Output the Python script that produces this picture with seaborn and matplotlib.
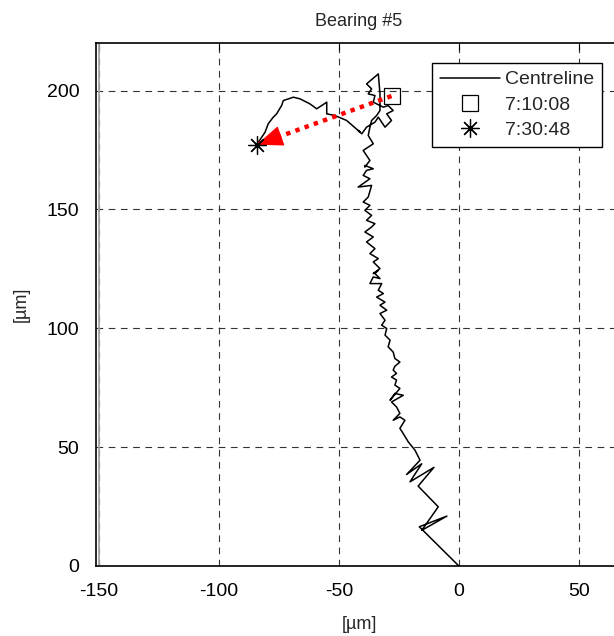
import numpy as np
import pandas as pd
import matplotlib
matplotlib.use("Agg")
import matplotlib.pyplot as plt
import seaborn as sns

track_x = [0.0, -16.5, -5.0, -15.5, -8.6, -17.0, -10.4, -20.4, -15.5, -21.8, -16.2,
           -18.3, -21.1, -23.2, -24.6, -22.5, -24.6, -27.4, -24.6, -26.0, -28.1, -23.2,
           -26.7, -28.7, -24.6, -26.7, -26.0, -28.1, -26.0, -27.4, -26.7, -24.6, -26.7,
           -27.4, -29.5, -28.7, -30.8, -30.1, -32.2, -30.8, -32.9, -30.1, -32.9, -30.8,
           -34.3, -31.5, -33.6, -32.2, -37.1, -35.7, -32.9, -35.0, -33.6, -35.7, -32.9,
           -35.7, -33.6, -37.1, -35.0, -38.5, -35.7, -39.2, -36.4, -35.0, -38.5, -36.4,
           -39.2, -37.1, -39.9, -37.8, -36.4, -42.0, -37.1, -39.9, -38.5, -35.7, -39.2,
           -39.2, -37.1, -39.9, -35.7, -37.8, -37.1, -36.4, -34.3, -32.9, -32.9, -33.6,
           -38.5, -36.4, -37.8, -35.0, -35.7, -31.5, -29.5, -27.4, -30.1, -28.1, -30.8,
           -33.6, -35.0, -38.5, -40.5, -42.0, -41.2, -46.8, -51.7, -55.1, -55.1, -57.2,
           -59.3, -62.1, -63.5, -66.2, -69.0, -73.2, -73.9, -76.0, -77.4, -79.5, -80.8,
           -84.3]
track_y = [0.0, 16.5, 21.0, 15.0, 24.9, 33.6, 41.5, 35.4, 43.0, 38.5, 44.5,
           48.7, 52.2, 55.7, 57.9, 61.3, 62.7, 61.3, 64.2, 66.9, 69.0, 71.8,
           72.6, 69.7, 74.7, 76.1, 78.2, 79.5, 81.0, 82.4, 84.0, 85.8, 87.3,
           90.0, 92.2, 95.0, 97.1, 99.9, 101.3, 103.4, 106.2, 107.6, 109.7, 111.0,
           113.1, 114.6, 116.0, 118.8, 118.8, 121.6, 120.9, 123.0, 124.4, 123.0, 125.1,
           127.9, 129.3, 131.4, 133.5, 136.3, 138.4, 140.5, 142.6, 144.0, 145.4, 147.5,
           149.6, 151.7, 153.1, 155.2, 160.1, 159.4, 162.9, 164.3, 166.4, 167.1, 168.5,
           167.8, 170.6, 174.8, 177.6, 181.1, 184.6, 187.4, 189.5, 191.6, 198.6, 207.0,
           202.8, 200.7, 198.6, 197.9, 195.1, 193.0, 193.7, 191.6, 190.2, 187.4, 184.6,
           188.8, 186.7, 184.6, 181.8, 183.2, 182.5, 187.4, 189.5, 190.2, 195.1, 193.7,
           192.3, 194.4, 195.1, 196.5, 197.2, 195.8, 193.7, 190.2, 188.8, 186.0, 182.5,
           177.2]

start_label = "7:10:08"
end_label = "7:30:48"
start_pos = (-28.1, 197.7)
end_pos = (-84.3, 177.2)

xticks = [-150, -100, -50, 0, 50]
yticks = [0, 50, 100, 150, 200]

sns.set_theme(style="white")
plt.rcParams["font.family"] = ["Liberation Sans", "DejaVu Sans"]
plt.rcParams["axes.unicode_minus"] = False

fig = plt.figure(figsize=(6.14, 6.36), dpi=100)
ax = fig.add_axes([96 / 614, 70 / 636, 526 / 614, 523 / 636])

track = pd.DataFrame({"x": track_x, "y": track_y})
sns.lineplot(data=track, x="x", y="y", sort=False, estimator=None, color="black",
             linewidth=1.1, ax=ax, label="Centreline")

# red dotted arrow from first to last marker
ax.plot([start_pos[0], end_pos[0]], [start_pos[1], end_pos[1]], color="red",
        linestyle=(0, (1, 1.2)), linewidth=3.2, zorder=3)
ax.annotate("", xy=end_pos, xytext=(end_pos[0] + 0.35 * (start_pos[0] - end_pos[0]) / 3,
                                    end_pos[1] + 0.35 * (start_pos[1] - end_pos[1]) / 3),
            arrowprops=dict(arrowstyle="-|>,head_length=1.4,head_width=0.55",
                            color="red", lw=1, shrinkA=0, shrinkB=0), zorder=4)

ax.plot([start_pos[0]], [start_pos[1]], linestyle="none", marker="s", markersize=11,
        markerfacecolor="none", markeredgecolor="black", markeredgewidth=0.9,
        label=start_label, zorder=5)
ax.plot([end_pos[0]], [end_pos[1]], linestyle="none", marker=(8, 2, 0), markersize=13,
        color="black", markeredgewidth=0.9, label=end_label, zorder=5)

ax.set_xlim(-151.3, 68)
ax.set_ylim(0, 220)
ax.set_xticks(xticks)
ax.set_yticks(yticks)
ax.axvline(xticks[0], color="0.65", linewidth=1.3, zorder=1)
ax.grid(True, color="0.2", linestyle=(0, (6, 5)), linewidth=0.8)
ax.tick_params(direction="in", length=5, width=0.8, top=True, right=True,
               labelsize=14, colors="black", pad=12)
for side in ["left", "bottom", "top", "right"]:
    ax.spines[side].set_color("black")
    ax.spines[side].set_linewidth(1.2)

ax.set_title("Bearing #5", fontsize=13, pad=12)
ax.set_xlabel("[\u00b5m]", fontsize=13, labelpad=12)
ax.set_ylabel("[\u00b5m]", fontsize=13, labelpad=12)

leg = ax.legend(loc="upper right", bbox_to_anchor=(602 / 614, 1 - 63 / 636),
                bbox_transform=fig.transFigure, fontsize=14, frameon=True,
                fancybox=False, handlelength=3.1, borderpad=0.4, labelspacing=0.4,
                handletextpad=0.25, borderaxespad=0)
leg.get_frame().set_edgecolor("black")
leg.get_frame().set_linewidth(1.0)
leg.get_frame().set_alpha(1)

fig.savefig("out.png", dpi=100)
